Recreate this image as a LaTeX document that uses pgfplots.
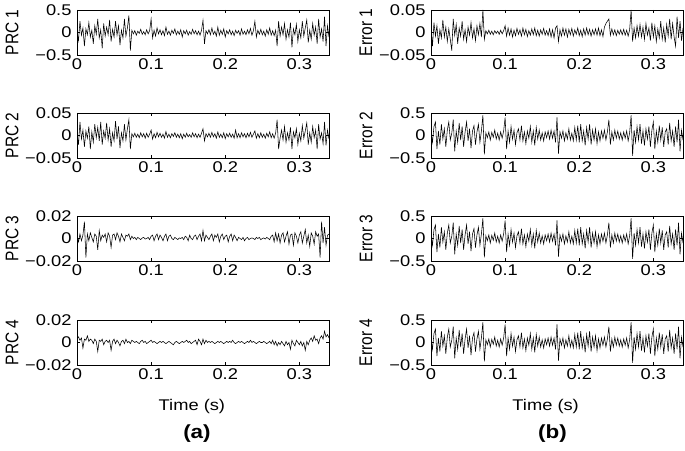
\documentclass[border=0pt]{standalone}
\usepackage{pgfplots}
\pgfplotsset{compat=1.18}
\usepackage{pgfplotstable}
\usepackage{fontspec}
\setmainfont{Liberation Sans}[FakeStretch=1.18]
\newfontfamily\ylf{Liberation Sans}
\newcommand\fs{\fontsize{15.5}{18}\selectfont}

\pgfplotstableread[row sep=\\]{y\\
0.03\\-0.18\\0.25\\-0.06\\0.1\\-0.3\\0.08\\-0.05\\0.22\\-0.1\\
0.05\\-0.25\\0.15\\-0.04\\0.3\\-0.12\\0.06\\-0.35\\0.2\\-0.08\\
0.12\\-0.05\\0.28\\-0.2\\0.07\\-0.1\\0.25\\-0.06\\0.15\\-0.28\\
0.05\\-0.12\\0.3\\-0.08\\0.1\\0.38\\-0.4\\0.05\\-0.03\\0.04\\
-0.06\\0.03\\-0.02\\0.07\\-0.04\\0.02\\-0.05\\0.06\\-0.03\\0.04\\
0.3\\-0.12\\0.05\\-0.08\\0.1\\-0.03\\0.06\\-0.05\\0.04\\-0.07\\
0.12\\-0.04\\0.03\\-0.06\\0.05\\-0.02\\0.08\\-0.05\\0.03\\-0.04\\
0.06\\-0.1\\0.04\\-0.03\\0.05\\-0.06\\0.02\\-0.04\\0.07\\-0.03\\
0.04\\-0.05\\0.03\\-0.06\\0.05\\0.27\\-0.25\\0.04\\-0.03\\0.06\\
-0.05\\0.1\\-0.04\\0.03\\-0.08\\0.12\\-0.06\\0.05\\-0.04\\0.08\\
-0.1\\0.04\\-0.03\\0.06\\-0.05\\0.03\\-0.07\\0.05\\-0.02\\0.04\\
-0.06\\0.08\\-0.04\\0.03\\-0.05\\0.06\\-0.03\\0.09\\-0.06\\0.04\\
0.25\\-0.1\\0.05\\-0.04\\0.07\\-0.05\\0.03\\-0.08\\0.06\\-0.04\\
0.1\\-0.06\\0.04\\-0.07\\0.05\\-0.3\\0.25\\-0.08\\0.12\\-0.05\\
0.2\\-0.15\\0.06\\-0.1\\0.22\\-0.33\\0.08\\-0.05\\0.18\\-0.2\\
0.06\\-0.12\\0.25\\-0.08\\0.1\\0.28\\-0.22\\0.05\\-0.15\\0.2\\
-0.06\\0.12\\-0.25\\0.3\\-0.1\\0.08\\-0.2\\0.35\\-0.3\\0.15\\
-0.1\\
}\prcA

\pgfplotstableread[row sep=\\]{y\\
0.005\\-0.02\\0.03\\-0.008\\0.012\\-0.025\\0.01\\-0.006\\0.02\\-0.03\\
0.008\\-0.015\\0.025\\-0.005\\0.018\\-0.012\\0.03\\-0.02\\0.01\\-0.006\\
0.028\\-0.01\\0.015\\-0.025\\0.006\\-0.012\\0.032\\-0.008\\0.02\\-0.028\\
0.006\\-0.012\\0.025\\-0.01\\0.015\\0.035\\-0.03\\0.004\\-0.003\\0.005\\
-0.004\\0.003\\-0.005\\0.006\\-0.003\\0.004\\-0.006\\0.005\\-0.004\\0.003\\
0.012\\-0.008\\0.004\\-0.005\\0.007\\-0.003\\0.005\\-0.004\\0.003\\-0.006\\
0.009\\-0.004\\0.003\\-0.005\\0.004\\-0.002\\0.006\\-0.004\\0.003\\-0.005\\
0.004\\-0.007\\0.003\\-0.004\\0.005\\-0.003\\0.002\\-0.004\\0.006\\-0.003\\
0.004\\-0.005\\0.003\\-0.004\\0.005\\0.015\\-0.012\\0.004\\-0.003\\0.005\\
-0.004\\0.007\\-0.003\\0.004\\-0.006\\0.008\\-0.004\\0.003\\-0.005\\0.006\\
-0.007\\0.004\\-0.003\\0.005\\-0.004\\0.003\\-0.006\\0.012\\-0.005\\0.004\\
-0.005\\0.006\\-0.003\\0.004\\-0.005\\0.005\\-0.003\\0.007\\-0.004\\0.003\\
0.01\\-0.006\\0.004\\-0.005\\0.006\\-0.004\\0.003\\-0.006\\0.005\\-0.003\\
0.008\\-0.005\\0.004\\-0.006\\0.005\\0.035\\-0.03\\-0.006\\0.012\\-0.01\\
0.02\\-0.015\\0.006\\-0.01\\0.018\\-0.03\\0.008\\-0.005\\0.015\\-0.02\\
0.005\\-0.012\\0.022\\-0.006\\0.01\\0.028\\-0.02\\0.006\\-0.015\\0.02\\
-0.005\\0.012\\-0.03\\0.025\\-0.008\\0.006\\-0.018\\0.03\\-0.022\\0.012\\
-0.008\\
}\prcB

\pgfplotstableread[row sep=\\]{y\\
0.002\\-0.003\\0.004\\-0.002\\0.003\\0.015\\-0.017\\0.004\\-0.002\\0.005\\
0.001\\-0.003\\0.004\\0.002\\-0.01\\0.007\\-0.002\\0.003\\0.001\\0.004\\
-0.003\\0.005\\0.002\\-0.008\\0.003\\0.004\\-0.001\\0.005\\0.002\\-0.003\\
0.004\\0.001\\-0.002\\0.003\\0.002\\0.004\\-0.001\\0.002\\0\\0.001\\
-0.001\\0.001\\0\\-0.001\\0.0005\\0.001\\-0.0005\\0\\0.001\\-0.001\\
0.002\\0.003\\-0.002\\0.002\\0.004\\-0.001\\0.003\\0.001\\-0.002\\0.002\\
0.004\\-0.002\\0.002\\0.003\\0\\-0.001\\0.001\\0\\-0.001\\0.0005\\
0\\0.001\\-0.001\\0.002\\0.001\\-0.002\\0.003\\0\\-0.001\\0.002\\
0.003\\-0.001\\0.002\\0.004\\-0.002\\0.007\\-0.002\\0.003\\0.001\\-0.001\\
0.002\\0.004\\-0.002\\0.003\\0.001\\0.004\\-0.003\\0.002\\0.004\\-0.001\\
0.002\\0.003\\-0.003\\0.002\\0.004\\-0.002\\0.003\\0.001\\-0.002\\0.001\\
0\\-0.001\\0.001\\-0.002\\0\\0.001\\-0.001\\0\\0.0005\\0\\
-0.001\\0.001\\0\\0.001\\-0.001\\0\\0.0005\\-0.0005\\0.001\\0\\
-0.001\\0.002\\0.003\\-0.003\\0.005\\-0.002\\0.004\\-0.004\\0.003\\0.005\\
-0.003\\0.002\\0.006\\-0.005\\0.003\\0.004\\-0.006\\0.005\\0.002\\-0.004\\
0.003\\0.006\\-0.004\\0.002\\0.008\\-0.004\\0.003\\-0.007\\0.005\\0.002\\
-0.005\\0.006\\0.002\\0.004\\-0.017\\0.015\\-0.004\\0.01\\-0.006\\0.003\\
0.004\\
}\prcC

\pgfplotstableread[row sep=\\]{y\\
0.003\\0.005\\0.002\\0.004\\-0.005\\0.003\\0.002\\0.006\\0.001\\0.003\\
0.002\\-0.001\\0.003\\0.001\\-0.008\\0.002\\0.001\\0.003\\-0.002\\0.001\\
0.002\\0\\0.002\\-0.007\\0.001\\0.003\\-0.001\\0.002\\0\\-0.003\\
0.001\\0.002\\-0.001\\0.003\\0\\0.001\\-0.001\\0.002\\0.001\\0\\
0.001\\0\\-0.001\\0.001\\0.002\\0\\0.001\\-0.001\\0\\0.001\\
0.002\\0\\0.001\\0\\-0.001\\0\\0.001\\0\\0.001\\0\\
-0.001\\0\\0.001\\0\\-0.001\\-0.002\\0\\0.001\\0\\-0.001\\
0\\0.001\\0\\0.001\\0.002\\0\\0.001\\-0.001\\0\\0.001\\
0.002\\-0.002\\0.003\\0.001\\-0.002\\0.003\\-0.001\\0.002\\0\\0.001\\
0\\0.001\\0\\-0.001\\0\\0.001\\0\\0.001\\0\\-0.001\\
0\\0.001\\0\\0.001\\0\\0.002\\0\\-0.001\\0\\0.001\\
0\\0.001\\0\\-0.001\\0\\0.001\\0\\0.002\\0\\0.001\\
0\\-0.001\\0\\0.001\\0\\0\\0.001\\0\\-0.001\\0\\
0.001\\-0.001\\0.002\\-0.002\\0.001\\-0.003\\0\\-0.002\\0.001\\-0.001\\
-0.003\\0.001\\-0.002\\0\\-0.006\\0.002\\-0.001\\-0.003\\0.002\\0\\
-0.002\\0.001\\-0.003\\0\\-0.007\\0.001\\-0.002\\0.002\\0.004\\0.001\\
0.006\\0.002\\0.003\\-0.001\\0.004\\0.006\\0.003\\0.01\\0.005\\0.007\\
0.004\\
}\prcD

\pgfplotstableread[row sep=\\]{y\\
0.01\\-0.03\\0.022\\-0.008\\0.015\\-0.025\\0.006\\-0.012\\0.028\\-0.01\\
0.012\\-0.02\\0.008\\-0.015\\-0.04\\0.03\\-0.006\\0.018\\-0.025\\0.01\\
-0.008\\0.025\\-0.015\\0.006\\-0.02\\0.012\\-0.006\\0.022\\-0.012\\0.008\\
-0.018\\0.015\\-0.005\\0.02\\-0.01\\0.05\\-0.015\\0.004\\-0.003\\0.005\\
-0.004\\0.003\\-0.005\\0.004\\-0.002\\0.003\\-0.004\\0.005\\-0.003\\0.004\\
0.015\\-0.008\\0.01\\-0.006\\0.008\\-0.01\\0.005\\-0.007\\0.009\\-0.004\\
0.006\\-0.008\\0.01\\-0.005\\0.007\\-0.009\\0.004\\-0.006\\0.008\\-0.005\\
0.01\\-0.007\\0.005\\-0.008\\0.006\\-0.004\\0.009\\-0.006\\0.004\\-0.007\\
0.008\\-0.01\\0.006\\-0.012\\0.01\\0.015\\-0.02\\0.006\\-0.008\\0.01\\
-0.006\\0.008\\-0.01\\0.007\\-0.005\\0.009\\-0.008\\0.006\\-0.004\\0.01\\
-0.007\\0.005\\-0.009\\0.008\\-0.006\\0.01\\-0.005\\0.007\\-0.008\\0.006\\
-0.005\\0.008\\-0.006\\0.01\\-0.007\\0.006\\-0.009\\0.012\\0.02\\0.025\\
0.03\\-0.006\\0.008\\-0.005\\0.006\\-0.007\\0.005\\-0.004\\0.006\\-0.005\\
0.007\\-0.006\\0.005\\-0.008\\0.006\\0.05\\-0.02\\0.01\\-0.012\\0.015\\
-0.008\\0.018\\-0.01\\0.012\\-0.015\\0.02\\-0.006\\0.01\\-0.018\\0.022\\
-0.01\\0.015\\-0.02\\0.008\\-0.012\\0.025\\-0.015\\0.01\\-0.022\\0.018\\
-0.008\\0.03\\-0.015\\0.02\\-0.01\\-0.03\\0.035\\-0.012\\0.025\\-0.018\\
0.01\\
}\errA

\pgfplotstableread[row sep=\\]{y\\
0.08\\-0.15\\0.2\\0.3\\-0.3\\0.1\\-0.2\\0.25\\-0.08\\0.15\\
-0.25\\0.12\\0.3\\-0.1\\0.05\\0.35\\-0.35\\0.1\\-0.15\\0.28\\
-0.1\\0.2\\-0.25\\0.08\\0.3\\-0.12\\0.15\\-0.28\\0.1\\0.22\\
-0.2\\0.08\\0.25\\-0.15\\0.1\\0.45\\-0.42\\0.06\\-0.05\\0.08\\
-0.1\\0.07\\-0.04\\0.12\\-0.08\\0.05\\-0.1\\0.08\\-0.06\\0.1\\
0.4\\-0.3\\0.1\\-0.15\\0.2\\-0.08\\0.12\\-0.2\\0.06\\0.15\\
-0.1\\0.22\\-0.12\\0.08\\-0.18\\0.1\\-0.06\\0.2\\-0.15\\0.1\\
-0.22\\0.18\\-0.08\\0.12\\-0.1\\0.06\\-0.12\\0.08\\-0.05\\0.1\\
-0.08\\0.12\\-0.06\\0.1\\-0.15\\0.4\\-0.4\\0.08\\-0.06\\0.1\\
-0.12\\0.06\\-0.08\\0.15\\-0.1\\0.05\\-0.12\\0.18\\-0.1\\0.22\\
-0.15\\0.25\\-0.12\\0.1\\-0.22\\0.18\\-0.08\\0.25\\-0.2\\0.12\\
-0.1\\0.15\\-0.18\\0.08\\-0.12\\0.1\\-0.06\\0.12\\-0.1\\0.08\\
0.35\\-0.2\\0.08\\-0.1\\0.12\\-0.06\\0.1\\-0.08\\0.06\\-0.1\\
0.08\\-0.06\\0.1\\-0.12\\0.06\\0.45\\-0.45\\0.12\\-0.15\\0.2\\
-0.1\\0.25\\-0.18\\0.1\\-0.22\\0.15\\-0.08\\0.2\\-0.25\\0.12\\
0.3\\-0.3\\0.1\\-0.15\\0.22\\-0.1\\0.18\\-0.25\\0.08\\0.15\\
-0.2\\0.28\\-0.12\\0.1\\-0.25\\0.2\\-0.15\\0.35\\-0.35\\0.12\\
-0.1\\
}\errB

\pgfplotsset{
  panel/.style={
    scale only axis, width=252pt, height=45pt,
    xmin=0, xmax=0.34,
    xtick={0,0.1,0.2,0.3}, xticklabels={0,0.1,0.2,0.3},
    scaled ticks=false,
    tick align=inside, major tick length=3pt,
    axis line style={line width=0.8pt},
    every tick/.style={black, line width=0.6pt},
    ticklabel style={font=\fs},
    yticklabel style={xshift=-2pt},
    xlabel style={font=\fs},
    ylabel style={font=\fs\ylf, at={(axis description cs:-0.258,0.5)}, anchor=center, yscale=1.18},
    clip mode=individual,
  },
  sig/.style={black, line width=0.55pt, no marks},
}

\begin{document}
\begin{tikzpicture}
\path[use as bounding box] (0,0) rectangle (685pt,450pt);

% left column
\begin{axis}[panel, at={(77pt,395pt)}, anchor=south west,
  ymin=-0.5, ymax=0.5, ytick={-0.5,0,0.5}, yticklabels={−0.5,0,0.5}, ylabel={PRC 1}]
\addplot[sig] table[x expr=\coordindex*0.002, y=y] {\prcA};
\end{axis}
\begin{axis}[panel, at={(77pt,292pt)}, anchor=south west,
  ymin=-0.05, ymax=0.05, ytick={-0.05,0,0.05}, yticklabels={−0.05,0,0.05}, ylabel={PRC 2}]
\addplot[sig] table[x expr=\coordindex*0.002, y=y] {\prcB};
\end{axis}
\begin{axis}[panel, at={(77pt,189pt)}, anchor=south west,
  ymin=-0.02, ymax=0.02, ytick={-0.02,0,0.02}, yticklabels={−0.02,0,0.02}, ylabel={PRC 3}]
\addplot[sig] table[x expr=\coordindex*0.002, y=y] {\prcC};
\end{axis}
\begin{axis}[panel, at={(77pt,85pt)}, anchor=south west,
  ymin=-0.02, ymax=0.02, ytick={-0.02,0,0.02}, yticklabels={−0.02,0,0.02}, ylabel={PRC 4},
  xlabel={Time (s)}, xlabel style={at={(axis description cs:0.456,-0.911)}, anchor=center}]
\addplot[sig] table[x expr=\coordindex*0.002, y=y] {\prcD};
\node[font=\fontsize{19}{22}\selectfont\bfseries, anchor=center] at (rel axis cs:0.476,-1.52) {(a)};
\end{axis}

% right column
\begin{axis}[panel, at={(431pt,395pt)}, anchor=south west,
  ymin=-0.05, ymax=0.05, ytick={-0.05,0,0.05}, yticklabels={−0.05,0,0.05}, ylabel={Error 1}]
\addplot[sig] table[x expr=\coordindex*0.002, y=y] {\errA};
\end{axis}
\begin{axis}[panel, at={(431pt,292pt)}, anchor=south west,
  ymin=-0.5, ymax=0.5, ytick={-0.5,0,0.5}, yticklabels={−0.5,0,0.5}, ylabel={Error 2}]
\addplot[sig] table[x expr=\coordindex*0.002, y=y] {\errB};
\end{axis}
\begin{axis}[panel, at={(431pt,189pt)}, anchor=south west,
  ymin=-0.5, ymax=0.5, ytick={-0.5,0,0.5}, yticklabels={−0.5,0,0.5}, ylabel={Error 3}]
\addplot[sig] table[x expr=\coordindex*0.002, y=y] {\errB};
\end{axis}
\begin{axis}[panel, at={(431pt,85pt)}, anchor=south west,
  ymin=-0.5, ymax=0.5, ytick={-0.5,0,0.5}, yticklabels={−0.5,0,0.5}, ylabel={Error 4},
  xlabel={Time (s)}, xlabel style={at={(axis description cs:0.455,-0.911)}, anchor=center}]
\addplot[sig] table[x expr=\coordindex*0.002, y=y] {\errB};
\node[font=\fontsize{19}{22}\selectfont\bfseries, anchor=center] at (rel axis cs:0.482,-1.52) {(b)};
\end{axis}
\end{tikzpicture}
\end{document}
